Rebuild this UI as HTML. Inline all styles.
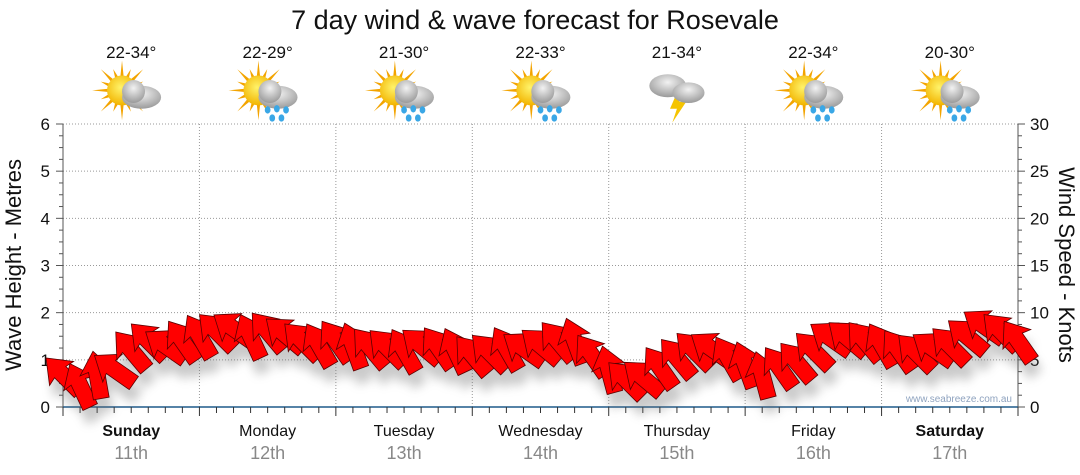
<!DOCTYPE html>
<html><head><meta charset="utf-8"><style>
body{margin:0;background:#fff;}
svg{display:block;font-family:"Liberation Sans","DejaVu Sans",sans-serif;}
</style></head><body>
<svg id="chart" width="1080" height="475" viewBox="0 0 1080 475">
<defs>
<filter id="sh" x="-50%" y="-50%" width="200%" height="200%"><feGaussianBlur stdDeviation="5"/></filter>
<radialGradient id="cloudG" cx="50%" cy="35%" r="65%"><stop offset="0" stop-color="#f2f2f2"/><stop offset="1" stop-color="#9a9a9a"/></radialGradient>
<radialGradient id="sunG" cx="45%" cy="40%" r="60%"><stop offset="0" stop-color="#fff36a"/><stop offset="1" stop-color="#f2b400"/></radialGradient>
</defs>
<text x="535" y="29" font-size="27" text-anchor="middle" fill="#111">7 day wind &amp; wave forecast for Rosevale</text>
<g id="grid"></g>
<g id="axes"></g>
<text x="1012" y="402" font-size="10" text-anchor="end" fill="#8fa3bf">www.seabreeze.com.au</text>
<g id="shadows" filter="url(#sh)" opacity="0.35"></g>
<g id="arrows"></g>
<g id="icons"></g>
<text transform="translate(21,265) rotate(-90)" font-size="22" text-anchor="middle" fill="#111">Wave Height - Metres</text>
<text transform="translate(1059,265) rotate(90)" font-size="22" text-anchor="middle" fill="#111">Wind Speed - Knots</text>
</svg>
<script>
const days=["Sunday","Monday","Tuesday","Wednesday","Thursday","Friday","Saturday"];
const dates=["11th","12th","13th","14th","15th","16th","17th"];
const temps=["22-34°","22-29°","21-30°","22-33°","21-34°","22-34°","20-30°"];
const iconTypes=["cloud","rain","rain","rain","storm","rain","rain"];
const windSpeed=[3.4,2.3,3.4,4,6,7,6.5,7,7.5,8,8.3,7.5,8,7.7,7,6.6,7,6.5,6.3,6.3,6,6.5,6.3,6,5.5,5.8,6.2,6.2,6.5,7,7,5.5,4,2.9,3.1,4.2,5.2,6,6.2,5.2,4.5,3.4,4.2,4.8,6,7.3,7.3,7,6.6,6,5.8,6.2,6.5,7.5,8.6,8,7];
const windDir=[225,245,260,215,230,225,215,235,240,225,215,245,230,220,225,240,235,250,230,225,240,220,235,245,230,225,240,215,220,230,250,235,255,225,220,235,230,225,215,240,250,255,235,230,225,215,220,230,240,235,225,215,225,220,215,225,235];
const leftTicks=[0,1,2,3,4,5,6];
const rightTicks=[0,5,10,15,20,25,30];
const NS="http://www.w3.org/2000/svg";
const X0=63,X1=1018,Y0=407,Y6=124;
const dayW=(X1-X0)/7;
function xPos(i){return X0+i*(X1-X0)/(windSpeed.length-1);}
function yM(v){return Y0-(Y0-Y6)*v/6;}
function yK(v){return yM(v/5);}
function mk(tag,attrs,parent){const e=document.createElementNS(NS,tag);for(const k in attrs)e.setAttribute(k,attrs[k]);parent.appendChild(e);return e;}
const grid=document.getElementById('grid'),axes=document.getElementById('axes');
leftTicks.forEach((t,i)=>{
  const g=mk('g',{},grid);
  
  
  if(t>0)mk('line',{x1:X0,x2:X1,y1:yM(t),y2:yM(t),stroke:'#999','stroke-dasharray':'1,2'},g);
  const l=mk('text',{x:50,y:yM(t)+6,'font-size':17,'text-anchor':'end',fill:'#111'},axes);
  l.textContent=t;
  
  
  const r=mk('text',{x:1030,y:yK(rightTicks[i])+6,'font-size':17,fill:'#111'},axes);
  r.textContent=rightTicks[i];
  
  
});
for(let v=0;v<=6.001;v+=0.25){
  const big=Math.abs(v-Math.round(v))<0.01;
  mk('line',{x1:X0-(big?7:4),x2:X0,y1:yM(v),y2:yM(v),stroke:'#555'},axes);
  mk('line',{x1:X1,x2:X1+(big?7:4),y1:yM(v),y2:yM(v),stroke:'#555'},axes);
}
mk('line',{x1:X0,x2:X0,y1:Y6,y2:Y0,stroke:'#555'},axes);
mk('line',{x1:X1,x2:X1,y1:Y6,y2:Y0,stroke:'#555'},axes);
mk('line',{x1:X0,x2:X1,y1:Y0,y2:Y0,stroke:'#1f5a8a','stroke-width':1.5},axes);
for(let d=0;d<7;d++){
  const x=X0+d*dayW;
  if(d>0)mk('line',{x1:x,x2:x,y1:Y6,y2:Y0,stroke:'#999','stroke-dasharray':'1,2'},grid);
  for(let h=0;h<8;h++){const tx=x+h*dayW/8;mk('line',{x1:tx,x2:tx,y1:Y0,y2:Y0+(h==0?9:6),stroke:'#333'},axes);}
  const cx=x+dayW/2;
  const dn=mk('text',{x:cx,y:436,'font-size':16,'text-anchor':'middle',fill:'#111','font-weight':(d==0||d==6)?'bold':'normal'},axes);
  dn.textContent=days[d];
  
  
  const dt=mk('text',{x:cx,y:459,'font-size':18,'text-anchor':'middle',fill:'#888'},axes);
  dt.textContent=dates[d];
  
  
  const tp=mk('text',{x:cx,y:58,'font-size':17,'text-anchor':'middle',fill:'#111'},axes);
  tp.textContent=temps[d];
  
  
  drawIcon(cx,95,iconTypes[d]);
}
mk('line',{x1:X1,x2:X1,y1:Y0,y2:Y0+9,stroke:'#333'},axes);
function drawIcon(cx,cy,type){
  const g=mk('g',{transform:`translate(${cx},${cy}) scale(1.15)`},document.getElementById('icons'));
  
  
  if(type!=='storm'){
    for(let a=0;a<16;a++){const r=a*Math.PI/8;const L=a%2?20:26;
      mk('polygon',{points:`${-8+Math.cos(r-0.12)*12},${-4+Math.sin(r-0.12)*12} ${-8+Math.cos(r)*L},${-4+Math.sin(r)*L} ${-8+Math.cos(r+0.12)*12},${-4+Math.sin(r+0.12)*12}`,fill:'#f3a400'},g);}
    mk('circle',{cx:-8,cy:-4,r:13,fill:'url(#sunG)'},g);
  }
  if(type==='storm'){
    mk('ellipse',{cx:-8,cy:-8,rx:16,ry:10,fill:'url(#cloudG)'},g);
    mk('polygon',{points:'0,-2 -6,12 0,12 -4,24 8,6 2,6 6,-2',fill:'#f5c400'},g);
    mk('ellipse',{cx:10,cy:-2,rx:14,ry:9,fill:'url(#cloudG)'},g);
  }else{
    mk('ellipse',{cx:9,cy:2,rx:17,ry:10,fill:'url(#cloudG)'},g);
    mk('circle',{cx:2,cy:-3,r:10,fill:'url(#cloudG)'},g);
    if(type==='rain'){[[0,13],[8,12],[16,13],[4,20],[12,20]].forEach(p=>mk('ellipse',{cx:p[0],cy:p[1],rx:2.5,ry:3.2,fill:'#3aa7e6'},g));}
  }
}
const shadows=document.getElementById('shadows'),arrows=document.getElementById('arrows');
const shape="M24,0 L2,-17 L4,-8 L-24,-8 L-24,8 L4,8 L2,17 Z";
windSpeed.forEach((v,i)=>{
  const x=xPos(i),y=yK(v);
  mk('path',{d:shape,transform:`translate(${x+4},${y+14}) rotate(${windDir[i]})`,fill:'#666'},shadows);
});
windSpeed.forEach((v,i)=>{
  const x=xPos(i),y=yK(v);
  const a=mk('path',{d:shape,transform:`translate(${x},${y}) rotate(${windDir[i]})`,fill:'#ff0000',stroke:'#5a0000','stroke-width':0.8},arrows);
  
  
});
</script>
</body></html>
